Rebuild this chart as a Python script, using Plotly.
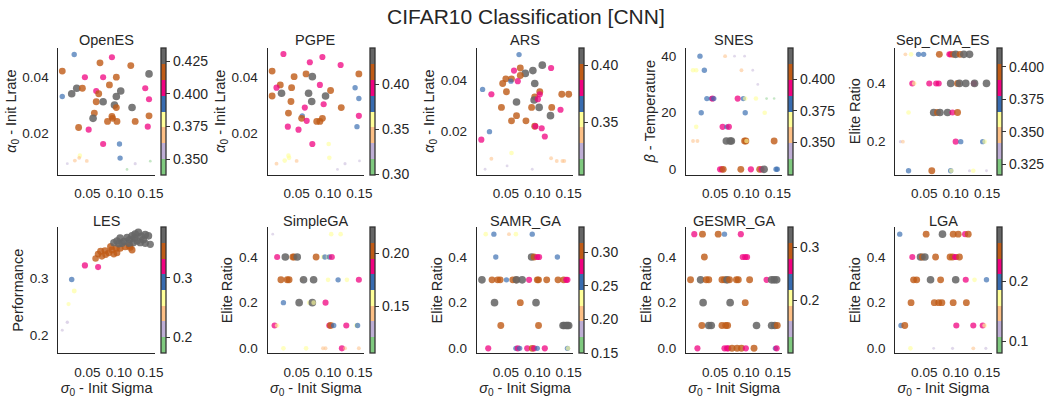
import plotly.graph_objects as go

# ---------------- data ----------------
openes_sigma = [0.029,0.089,0.070,0.119,0.010,0.046,0.075,0.096,0.148,0.025,0.033,0.042,0.064,0.068,0.085,0.010,0.096,0.103,0.142,0.148,0.064,0.075,0.093,0.096,0.121,0.061,0.059,0.089,0.090,0.082,0.097,0.126,0.148,0.036,0.052,0.146,0.075,0.101,0.102,0.038,0.037,0.030,0.049,0.018,0.113,0.126,0.150]
openes_lrate = [0.0484,0.0474,0.0454,0.0444,0.0424,0.0402,0.0402,0.0402,0.0414,0.0342,0.0362,0.0362,0.0352,0.0342,0.0374,0.0332,0.0332,0.0352,0.0362,0.0322,0.0313,0.0313,0.0301,0.0292,0.0292,0.0272,0.0253,0.0260,0.0253,0.0242,0.0242,0.0242,0.0262,0.0220,0.0212,0.0223,0.0160,0.0160,0.0109,0.0118,0.0110,0.0100,0.0099,0.0089,0.0068,0.0089,0.0098]
openes_perf = [0.393,0.405,0.417,0.417,0.417,0.405,0.405,0.417,0.429,0.429,0.429,0.417,0.405,0.417,0.417,0.393,0.429,0.429,0.405,0.405,0.417,0.429,0.429,0.417,0.429,0.417,0.429,0.417,0.417,0.417,0.417,0.417,0.417,0.417,0.405,0.405,0.405,0.393,0.393,0.380,0.368,0.368,0.368,0.352,0.350,0.356,0.350]

pgpe_sigma = [0.029,0.071,0.091,0.120,0.011,0.046,0.065,0.075,0.149,0.024,0.018,0.042,0.087,0.104,0.143,0.026,0.011,0.069,0.096,0.149,0.041,0.074,0.093,0.063,0.121,0.037,0.059,0.058,0.066,0.082,0.087,0.091,0.149,0.036,0.053,0.146,0.075,0.101,0.102,0.037,0.038,0.031,0.018,0.050,0.127,0.115,0.150]
pgpe_lrate = [0.0486,0.0456,0.0475,0.0446,0.0424,0.0404,0.0414,0.0404,0.0414,0.0374,0.0364,0.0364,0.0374,0.0354,0.0364,0.0344,0.0334,0.0344,0.0334,0.0325,0.0314,0.0314,0.0304,0.0292,0.0292,0.0272,0.0262,0.0253,0.0244,0.0242,0.0242,0.0253,0.0262,0.0223,0.0212,0.0223,0.0160,0.0160,0.0110,0.0118,0.0110,0.0100,0.0089,0.0099,0.0089,0.0068,0.0099]
pgpe_perf = [0.397,0.397,0.397,0.397,0.414,0.414,0.414,0.432,0.414,0.414,0.397,0.414,0.397,0.414,0.379,0.432,0.414,0.432,0.432,0.379,0.414,0.432,0.397,0.397,0.414,0.414,0.379,0.414,0.397,0.414,0.414,0.414,0.397,0.397,0.397,0.379,0.397,0.361,0.361,0.361,0.361,0.361,0.344,0.344,0.326,0.319,0.319]

ars_sigma = [0.071,0.108,0.122,0.073,0.093,0.063,0.081,0.073,0.050,0.059,0.045,0.058,0.069,0.096,0.013,0.051,0.104,0.027,0.139,0.150,0.096,0.104,0.095,0.101,0.067,0.043,0.091,0.103,0.123,0.137,0.067,0.121,0.059,0.082,0.096,0.097,0.107,0.024,0.112,0.011,0.059,0.027,0.122,0.131,0.140,0.143,0.017,0.052,0.092]
ars_lrate = [0.0499,0.0458,0.0447,0.0447,0.0437,0.0437,0.0426,0.0418,0.0405,0.0405,0.0387,0.0396,0.0396,0.0387,0.0364,0.0355,0.0355,0.0345,0.0345,0.0345,0.0335,0.0345,0.0323,0.0326,0.0315,0.0294,0.0294,0.0294,0.0294,0.0285,0.0262,0.0262,0.0242,0.0242,0.0221,0.0221,0.0213,0.0200,0.0181,0.0169,0.0117,0.0095,0.0097,0.0086,0.0086,0.0086,0.0054,0.0067,0.0054]
ars_perf = [0.367,0.409,0.381,0.395,0.409,0.381,0.409,0.395,0.395,0.395,0.395,0.367,0.381,0.409,0.367,0.395,0.395,0.381,0.395,0.395,0.395,0.381,0.409,0.381,0.409,0.395,0.395,0.409,0.395,0.381,0.395,0.409,0.395,0.395,0.395,0.381,0.381,0.367,0.381,0.381,0.353,0.339,0.339,0.339,0.339,0.339,0.320,0.320,0.320]

snes_sigma = [0.026,0.066,0.081,0.097,0.015,0.020,0.033,0.092,0.110,0.118,0.037,0.044,0.046,0.048,0.086,0.095,0.098,0.115,0.132,0.144,0.028,0.098,0.129,0.020,0.062,0.069,0.072,0.015,0.022,0.068,0.074,0.076,0.097,0.099,0.100,0.144,0.058,0.061,0.063,0.091,0.107,0.121,0.124,0.128,0.147,0.149]
snes_temp = [40,40,40,40,35,35,35,35,35,30,25,25,25,25,25,25,25,25,25,25,20,20,20,15,15,15,15,10,10,10,10,10,10,10,10,10,0,0,0,0,0,0,0,0,0,0]
snes_perf = [0.381,0.356,0.338,0.338,0.368,0.368,0.381,0.356,0.338,0.338,0.381,0.381,0.394,0.381,0.394,0.381,0.368,0.368,0.336,0.334,0.381,0.381,0.368,0.368,0.394,0.381,0.394,0.356,0.356,0.419,0.419,0.419,0.406,0.406,0.368,0.406,0.394,0.394,0.406,0.406,0.394,0.406,0.394,0.419,0.381,0.381]

sep_sigma = [0.020,0.029,0.041,0.049,0.074,0.090,0.092,0.096,0.100,0.107,0.113,0.122,0.031,0.034,0.058,0.069,0.073,0.092,0.103,0.106,0.116,0.129,0.130,0.149,0.025,0.065,0.071,0.075,0.087,0.095,0.103,0.012,0.016,0.100,0.108,0.143,0.146,0.025,0.062,0.092,0.093,0.122,0.128,0.149]
sep_elite = [0.5,0.5,0.5,0.5,0.5,0.5,0.5,0.5,0.5,0.5,0.5,0.5,0.4,0.4,0.4,0.4,0.4,0.4,0.4,0.4,0.4,0.4,0.4,0.4,0.3,0.3,0.3,0.3,0.3,0.3,0.3,0.2,0.2,0.2,0.2,0.2,0.2,0.1,0.1,0.1,0.1,0.1,0.1,0.1]
sep_perf = [0.347,0.360,0.372,0.372,0.396,0.384,0.384,0.396,0.409,0.396,0.409,0.409,0.384,0.360,0.384,0.384,0.384,0.409,0.396,0.409,0.409,0.384,0.409,0.409,0.360,0.409,0.396,0.409,0.409,0.384,0.396,0.335,0.347,0.384,0.372,0.372,0.360,0.372,0.396,0.372,0.360,0.335,0.360,0.330]

les_sigma = [0.010,0.018,0.020,0.029,0.025,0.046,0.067,0.063,0.067,0.073,0.071,0.078,0.084,0.089,0.092,0.097,0.096,0.102,0.110,0.118,0.121,0.117,0.087,0.079,0.092,0.097,0.102,0.108,0.113,0.117,0.121,0.125,0.129,0.131,0.136,0.139,0.142,0.147,0.150,0.142,0.134,0.123,0.116,0.126,0.105,0.100]
les_perf = [0.208,0.222,0.254,0.277,0.297,0.322,0.319,0.334,0.342,0.338,0.347,0.348,0.344,0.349,0.342,0.344,0.352,0.352,0.355,0.354,0.349,0.357,0.355,0.341,0.362,0.365,0.370,0.364,0.371,0.367,0.374,0.370,0.365,0.380,0.373,0.367,0.376,0.374,0.359,0.361,0.362,0.362,0.361,0.377,0.361,0.360]

sga_sigma = [0.012,0.105,0.120,0.019,0.032,0.044,0.046,0.051,0.081,0.092,0.095,0.100,0.102,0.106,0.025,0.035,0.038,0.058,0.061,0.077,0.100,0.116,0.130,0.149,0.029,0.054,0.070,0.075,0.077,0.096,0.015,0.019,0.102,0.104,0.109,0.129,0.145,0.147,0.029,0.065,0.092,0.096,0.122,0.127,0.149]
sga_elite = [0.5,0.5,0.5,0.4,0.4,0.4,0.4,0.4,0.4,0.4,0.4,0.4,0.4,0.4,0.3,0.3,0.3,0.3,0.3,0.3,0.3,0.3,0.3,0.3,0.2,0.2,0.2,0.2,0.2,0.2,0.1,0.1,0.1,0.1,0.1,0.1,0.1,0.1,0.0,0.0,0.0,0.0,0.0,0.0,0.0]
sga_perf = [0.121,0.158,0.158,0.187,0.217,0.202,0.202,0.217,0.202,0.158,0.172,0.158,0.172,0.187,0.202,0.202,0.202,0.143,0.217,0.217,0.158,0.172,0.158,0.187,0.172,0.217,0.158,0.217,0.158,0.187,0.187,0.158,0.187,0.202,0.172,0.187,0.158,0.172,0.158,0.158,0.143,0.143,0.187,0.143,0.143]

samr_sigma = [0.018,0.031,0.055,0.066,0.092,0.034,0.091,0.095,0.100,0.103,0.132,0.012,0.028,0.037,0.041,0.051,0.061,0.066,0.067,0.076,0.087,0.100,0.102,0.115,0.133,0.142,0.146,0.148,0.032,0.073,0.098,0.042,0.102,0.141,0.143,0.146,0.148,0.150,0.022,0.066,0.069,0.072,0.084,0.092,0.095,0.100,0.112,0.148,0.149]
samr_elite = [0.5,0.5,0.5,0.5,0.5,0.4,0.4,0.4,0.4,0.4,0.4,0.3,0.3,0.3,0.3,0.3,0.3,0.3,0.3,0.3,0.3,0.3,0.3,0.3,0.3,0.3,0.3,0.3,0.2,0.2,0.2,0.1,0.1,0.1,0.1,0.1,0.1,0.1,0.0,0.0,0.0,0.0,0.0,0.0,0.0,0.0,0.0,0.0,0.0]
samr_perf = [0.232,0.255,0.208,0.232,0.255,0.255,0.326,0.302,0.279,0.279,0.255,0.326,0.302,0.302,0.302,0.255,0.302,0.302,0.326,0.326,0.279,0.302,0.302,0.302,0.302,0.302,0.279,0.279,0.326,0.302,0.326,0.302,0.302,0.326,0.326,0.326,0.326,0.326,0.279,0.255,0.279,0.255,0.279,0.302,0.279,0.255,0.279,0.255,0.232]

gesmr_sigma = [0.017,0.030,0.055,0.065,0.091,0.033,0.094,0.098,0.101,0.011,0.027,0.036,0.040,0.061,0.065,0.069,0.073,0.084,0.087,0.105,0.132,0.140,0.144,0.148,0.031,0.074,0.098,0.029,0.040,0.044,0.061,0.067,0.070,0.116,0.140,0.145,0.149,0.022,0.065,0.069,0.071,0.077,0.085,0.092,0.099,0.112,0.146,0.148]
gesmr_elite = [0.5,0.5,0.5,0.5,0.5,0.4,0.4,0.4,0.4,0.3,0.3,0.3,0.3,0.3,0.3,0.3,0.3,0.3,0.3,0.3,0.3,0.3,0.3,0.3,0.2,0.2,0.2,0.1,0.1,0.1,0.1,0.1,0.1,0.1,0.1,0.1,0.1,0.0,0.0,0.0,0.0,0.0,0.0,0.0,0.0,0.0,0.0,0.0]
gesmr_perf = [0.264,0.294,0.294,0.234,0.264,0.294,0.264,0.264,0.264,0.294,0.324,0.294,0.294,0.294,0.294,0.324,0.294,0.294,0.294,0.294,0.264,0.324,0.324,0.324,0.324,0.324,0.294,0.294,0.324,0.324,0.294,0.294,0.294,0.324,0.324,0.324,0.294,0.264,0.264,0.264,0.264,0.294,0.294,0.294,0.264,0.294,0.234,0.264]

lga_sigma = [0.011,0.053,0.079,0.096,0.104,0.115,0.120,0.031,0.044,0.047,0.051,0.068,0.091,0.095,0.099,0.101,0.106,0.033,0.038,0.060,0.076,0.100,0.116,0.130,0.149,0.029,0.066,0.073,0.078,0.096,0.117,0.013,0.019,0.101,0.128,0.143,0.146,0.028,0.065,0.095,0.128,0.148]
lga_elite = [0.5,0.5,0.5,0.5,0.5,0.5,0.5,0.4,0.4,0.4,0.4,0.4,0.4,0.4,0.4,0.4,0.4,0.3,0.3,0.3,0.3,0.3,0.3,0.3,0.3,0.2,0.2,0.2,0.2,0.2,0.2,0.1,0.1,0.1,0.1,0.1,0.1,0.0,0.0,0.0,0.0,0.0]
lga_perf = [0.198,0.250,0.276,0.250,0.250,0.224,0.250,0.224,0.276,0.250,0.276,0.250,0.250,0.250,0.224,0.224,0.250,0.250,0.250,0.276,0.250,0.276,0.224,0.172,0.198,0.250,0.250,0.250,0.250,0.250,0.250,0.198,0.250,0.224,0.224,0.224,0.172,0.172,0.110,0.119,0.146,0.119]

titles = ["OpenES", "PGPE", "ARS", "SNES", "Sep_CMA_ES", "LES", "SimpleGA", "SAMR_GA", "GESMR_GA", "LGA"]
lrate_label = "<i>α</i><sub>0</sub> - Init Lrate"
ylabels = [lrate_label, lrate_label, lrate_label, "<i>β</i> - Temperature", "Elite Ratio",
           "Performance", "Elite Ratio", "Elite Ratio", "Elite Ratio", "Elite Ratio"]
xlabel = "<i>σ</i><sub>0</sub> - Init Sigma"

color_ranges = [(0.338, 0.4355), (0.2995, 0.441), (0.304, 0.4157), (0.3242, 0.4252), (0.3171, 0.4147),
                (0.1733, 0.385), (0.1053, 0.2244), (0.1496, 0.3374), (0.0987, 0.3383), (0.0802, 0.2895)]
color_ticks = [[0.350, 0.375, 0.400, 0.425], [0.30, 0.35, 0.40], [0.35, 0.40], [0.350, 0.375, 0.400],
               [0.325, 0.350, 0.375, 0.400], [0.2, 0.3], [0.15, 0.20], [0.15, 0.20, 0.25, 0.30], [0.2, 0.3], [0.1, 0.2]]
color_tick_text = [["0.350", "0.375", "0.400", "0.425"], ["0.30", "0.35", "0.40"], ["0.35", "0.40"],
                   ["0.350", "0.375", "0.400"], ["0.325", "0.350", "0.375", "0.400"], ["0.2", "0.3"],
                   ["0.15", "0.20"], ["0.15", "0.20", "0.25", "0.30"], ["0.2", "0.3"], ["0.1", "0.2"]]
y_ranges = [(0.0049, 0.0509), (0.0049, 0.0509), (0.0033, 0.0526), (-1.9, 43.0), (0.0865, 0.523),
            (0.1674, 0.389), (-0.022, 0.53), (-0.022, 0.53), (-0.022, 0.53), (-0.022, 0.53)]
y_ticks = [[0.02, 0.04], [0.02, 0.04], [0.02, 0.04], [0, 20, 40], [0.2, 0.4],
           [0.2, 0.3], [0.0, 0.2, 0.4], [0.0, 0.2, 0.4], [0.0, 0.2, 0.4], [0.0, 0.2, 0.4]]
y_tick_text = [["0.02", "0.04"], ["0.02", "0.04"], ["0.02", "0.04"], ["0", "20", "40"], ["0.2", "0.4"],
               ["0.2", "0.3"], ["0.0", "0.2", "0.4"], ["0.0", "0.2", "0.4"], ["0.0", "0.2", "0.4"], ["0.0", "0.2", "0.4"]]
x_ticks = [0.05, 0.10, 0.15]
x_tick_text = ["0.05", "0.10", "0.15"]

panels = [
    (openes_sigma, openes_lrate, openes_perf),
    (pgpe_sigma, pgpe_lrate, pgpe_perf),
    (ars_sigma, ars_lrate, ars_perf),
    (snes_sigma, snes_temp, snes_perf),
    (sep_sigma, sep_elite, sep_perf),
    (les_sigma, les_perf, les_perf),
    (sga_sigma, sga_elite, sga_perf),
    (samr_sigma, samr_elite, samr_perf),
    (gesmr_sigma, gesmr_elite, gesmr_perf),
    (lga_sigma, lga_elite, lga_perf),
]

ACCENT = ["#7fc97f", "#beaed4", "#fdc086", "#ffff99", "#386cb0", "#f0027f", "#bf5b17", "#666666"]
colorscale = []
for i, c in enumerate(ACCENT):
    colorscale.append([i / 8, c])
    colorscale.append([(i + 1) / 8, c])

# ---------------- layout geometry (pixels) ----------------
W, H = 1061, 402
FONT = "Liberation Sans, Arial, sans-serif"
TXT = "#262626"
TICK_SIZE = 13.5
col_left = [59, 270, 481, 692, 903]
ax_w = 97
rows = [(48, 176), (229, 356)]
title_shift = [-2, -4]
x_range = [0.004, 0.157]

fig = go.Figure()
layout = dict(
    width=W, height=H, margin=dict(l=0, r=0, t=0, b=0),
    paper_bgcolor="white", plot_bgcolor="white",
    font=dict(family=FONT, size=TICK_SIZE, color=TXT),
    showlegend=False,
    annotations=[],
)

for k in range(10):
    r, c = divmod(k, 5)
    top, bot = rows[r]
    left = col_left[c]
    sx, sy, perf = panels[k]
    assert len(sx) == len(sy) == len(perf)
    lo, hi = color_ranges[k]
    t = [min(max((v - lo) / (hi - lo), 0.0), 1.0) for v in perf]
    sizes = [2.0 + 6.0 * tt for tt in t]
    opac = [0.4 + 0.5 * tt for tt in t]
    n = "" if k == 0 else str(k + 1)
    fig.add_trace(go.Scatter(
        x=sx, y=sy, mode="markers", xaxis="x" + n, yaxis="y" + n,
        marker=dict(color=perf, coloraxis="coloraxis" + n, size=sizes, opacity=opac, line=dict(width=0)),
        hoverinfo="skip",
    ))
    xd = [left / W, (left + ax_w) / W]
    yd = [(H - bot) / H, (H - top) / H]
    xax = dict(
        domain=xd, range=x_range, anchor="y" + n, showline=True, linecolor=TXT, linewidth=1.3,
        showgrid=False, zeroline=False, ticks="", tickvals=x_ticks, ticktext=x_tick_text,
        tickfont=dict(size=TICK_SIZE, color=TXT), ticklabelstandoff=6,
    )
    if r == 1:
        xax["title"] = dict(text=xlabel, font=dict(size=14.5, color=TXT), standoff=2)
    layout["xaxis" + n] = xax
    layout["yaxis" + n] = dict(
        domain=yd, range=list(y_ranges[k]), anchor="x" + n, showline=True, linecolor=TXT, linewidth=1.3,
        showgrid=False, zeroline=False, ticks="", tickvals=y_ticks[k], ticktext=y_tick_text[k],
        tickfont=dict(size=TICK_SIZE, color=TXT), ticklabelstandoff=6,
        title=dict(text=ylabels[k], font=dict(size=14.5, color=TXT), standoff=2),
    )
    layout["coloraxis" + n] = dict(
        colorscale=colorscale, cmin=lo, cmax=hi,
        colorbar=dict(
            x=(left + 103) / W, xanchor="left", y=(H - bot) / H, yanchor="bottom",
            len=(bot - top) / H, lenmode="fraction", thickness=5, thicknessmode="pixels",
            outlinewidth=1.3, outlinecolor="#333333", ticks="outside", ticklen=4, tickwidth=1.2,
            tickcolor="#333333", tickvals=color_ticks[k], ticktext=color_tick_text[k],
            tickfont=dict(size=14, color=TXT), xpad=0, ypad=0,
        ),
    )
    layout["annotations"].append(dict(
        text=titles[k], x=(left + ax_w / 2) / W, y=(H - top) / H, xref="paper", yref="paper",
        xanchor="center", yanchor="bottom", yshift=title_shift[r], showarrow=False,
        font=dict(size=14.5, color=TXT, family=FONT),
    ))

layout["annotations"].append(dict(
    text="CIFAR10 Classification [CNN]", x=530 / W, y=1, xref="paper", yref="paper",
    xanchor="center", yanchor="top", yshift=-3, showarrow=False,
    font=dict(size=21, color=TXT, family=FONT),
))

fig.update_layout(**layout)
fig.write_html("out.html")
